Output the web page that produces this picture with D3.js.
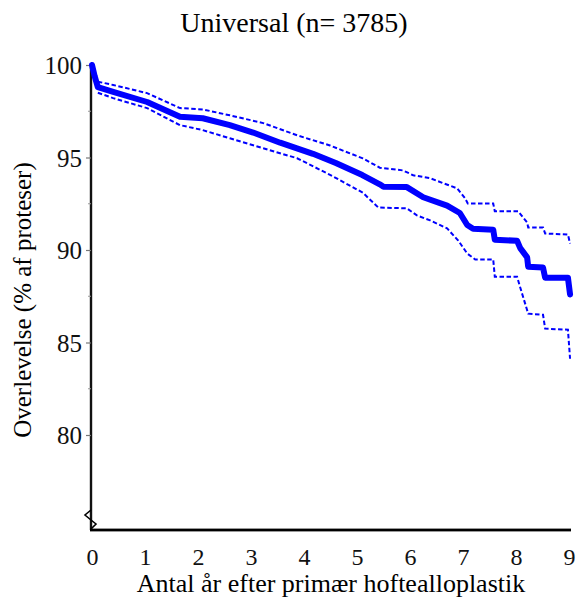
<!DOCTYPE html>
<html>
<head>
<meta charset="utf-8">
<script src="https://cdn.jsdelivr.net/npm/d3@7/dist/d3.min.js"></script>
<style>
  html, body { margin: 0; padding: 0; background: #fff; }
  svg { display: block; font-family: "Liberation Serif", "Times New Roman", serif; }
</style>
</head>
<body>
<svg id="chart" width="581" height="602"></svg>
<script>
// Kaplan–Meier survival estimate with 95% confidence band
const titleText = "Universal (n= 3785)";
const xLabelText = "Antal år efter primær hoftealloplastik";
const yLabelText = "Overlevelse (% af proteser)";

const xTickValues = [0, 1, 2, 3, 4, 5, 6, 7, 8, 9];
const yTickValues = [80, 85, 90, 95, 100];
const yMinorTickValues = [82.5, 87.5, 92.5, 97.5];

const survivalYears = [0, 0.05, 0.11, 0.4, 1.04, 1.66, 2.09, 2.6, 3.04, 3.55, 4.17, 4.6, 5.1, 5.43, 5.5, 5.94, 6.25, 6.7, 6.94, 7.08, 7.19, 7.57, 7.6, 8.02, 8.08, 8.21, 8.23, 8.51, 8.55, 8.98, 9.02];
const survivalPct   = [100, 99.4, 98.8, 98.55, 98.0, 97.2, 97.12, 96.75, 96.35, 95.8, 95.2, 94.7, 94.05, 93.55, 93.42, 93.4, 92.85, 92.4, 92.0, 91.35, 91.15, 91.1, 90.55, 90.5, 90.1, 89.6, 89.1, 89.05, 88.5, 88.5, 87.6];

const upperYears = [0.11, 0.4, 1.04, 1.66, 2.09, 2.6, 3.23, 3.87, 4.49, 5.11, 5.43, 5.87, 6.06, 6.38, 6.89, 7.04, 7.09, 7.57, 7.6, 8.04, 8.21, 8.23, 8.51, 8.55, 8.98, 9.02];
const upperPct   = [99.1, 98.92, 98.48, 97.67, 97.6, 97.28, 96.86, 96.2, 95.65, 94.95, 94.45, 94.3, 94.04, 93.88, 93.33, 92.79, 92.52, 92.52, 92.09, 92.09, 91.49, 91.22, 91.22, 90.89, 90.84, 90.35];

const lowerYears = [0.11, 0.4, 1.04, 1.66, 2.09, 2.6, 3.23, 3.87, 4.5, 5.11, 5.4, 5.94, 6.13, 6.38, 6.7, 6.91, 7.08, 7.23, 7.57, 7.6, 8.02, 8.08, 8.23, 8.51, 8.55, 8.98, 9.02];
const lowerPct   = [98.5, 98.21, 97.67, 96.75, 96.48, 96.04, 95.5, 94.96, 94.05, 93.1, 92.3, 92.25, 91.87, 91.6, 91.17, 90.51, 89.81, 89.49, 89.49, 88.56, 88.56, 87.97, 86.56, 86.5, 85.75, 85.69, 84.12];

const svg = d3.select("#chart");

const x = d3.scaleLinear().domain([0, 9]).range([92, 569]);
const y = d3.scaleLinear().domain([80, 100]).range([435, 65]);

const axisX = 91;
const baseY = 530;

// title
svg.append("text")
  .attr("x", 294).attr("y", 32)
  .attr("text-anchor", "middle")
  .attr("font-size", 28)
  .text(titleText);

// y axis spine from the top of the scale down to the baseline
svg.append("rect")
  .attr("class", "y-spine")
  .attr("x", axisX - 1.2).attr("width", 2.4)
  .attr("y", y(100)).attr("height", baseY - y(100))
  .attr("fill", "#111");

// y ticks and labels
const yAxis = d3.axisLeft(y).tickValues(yTickValues).tickSize(5).tickPadding(4).tickFormat(d3.format("d"));
const gy = svg.append("g").attr("transform", `translate(${axisX},0)`).call(yAxis);
gy.select(".domain").remove();
gy.selectAll(".tick line").attr("stroke", "#777").attr("stroke-width", 1.2);
gy.selectAll(".tick text")
  .attr("font-family", "Liberation Serif, Times New Roman, serif")
  .attr("font-size", 25).attr("fill", "#111").attr("dy", "0.34em");

gy.selectAll(".minor").data(yMinorTickValues).join("line")
  .attr("class", "minor")
  .attr("x1", -3).attr("x2", 0)
  .attr("y1", d => y(d)).attr("y2", d => y(d))
  .attr("stroke", "#999").attr("stroke-width", 1);

// axis break mark
svg.append("path")
  .attr("d", `M${axisX},510 L${axisX - 6},515 L${axisX},520 L${axisX + 5},524 L${axisX},529`)
  .attr("fill", "none").attr("stroke", "#000").attr("stroke-width", 1.6);

// x axis
const xAxis = d3.axisBottom(x).tickValues(xTickValues).tickSize(0).tickPadding(18).tickFormat(d3.format("d"));
const gx = svg.append("g").attr("transform", `translate(0,${baseY})`).call(xAxis);
gx.select(".domain").remove();
gx.selectAll(".tick text")
  .attr("font-family", "Liberation Serif, Times New Roman, serif")
  .attr("font-size", 24).attr("fill", "#111");
svg.append("rect")
  .attr("x", axisX - 1).attr("width", 571 - axisX + 1)
  .attr("y", baseY - 1.4).attr("height", 2.8)
  .attr("fill", "#000");

// axis labels
svg.append("text")
  .attr("x", 331).attr("y", 592)
  .attr("text-anchor", "middle")
  .attr("font-size", 26)
  .text(xLabelText);

svg.append("text")
  .attr("transform", "translate(31,300) rotate(-90)")
  .attr("text-anchor", "middle")
  .attr("font-size", 25)
  .text(yLabelText);

// curves
const line = d3.line().x(d => x(d[0])).y(d => y(d[1]));
const zip = (a, b) => a.map((v, i) => [v, b[i]]);

svg.append("path")
  .datum(zip(upperYears, upperPct))
  .attr("d", line)
  .attr("fill", "none").attr("stroke", "#0000ff").attr("stroke-width", 2)
  .attr("stroke-dasharray", "4.5,2.5");

svg.append("path")
  .datum(zip(lowerYears, lowerPct))
  .attr("d", line)
  .attr("fill", "none").attr("stroke", "#0000ff").attr("stroke-width", 2)
  .attr("stroke-dasharray", "4.5,2.5");

svg.append("path")
  .datum(zip(survivalYears, survivalPct))
  .attr("d", line)
  .attr("fill", "none").attr("stroke", "#0000ff").attr("stroke-width", 6)
  .attr("stroke-linejoin", "round").attr("stroke-linecap", "round");
</script>
</body>
</html>
